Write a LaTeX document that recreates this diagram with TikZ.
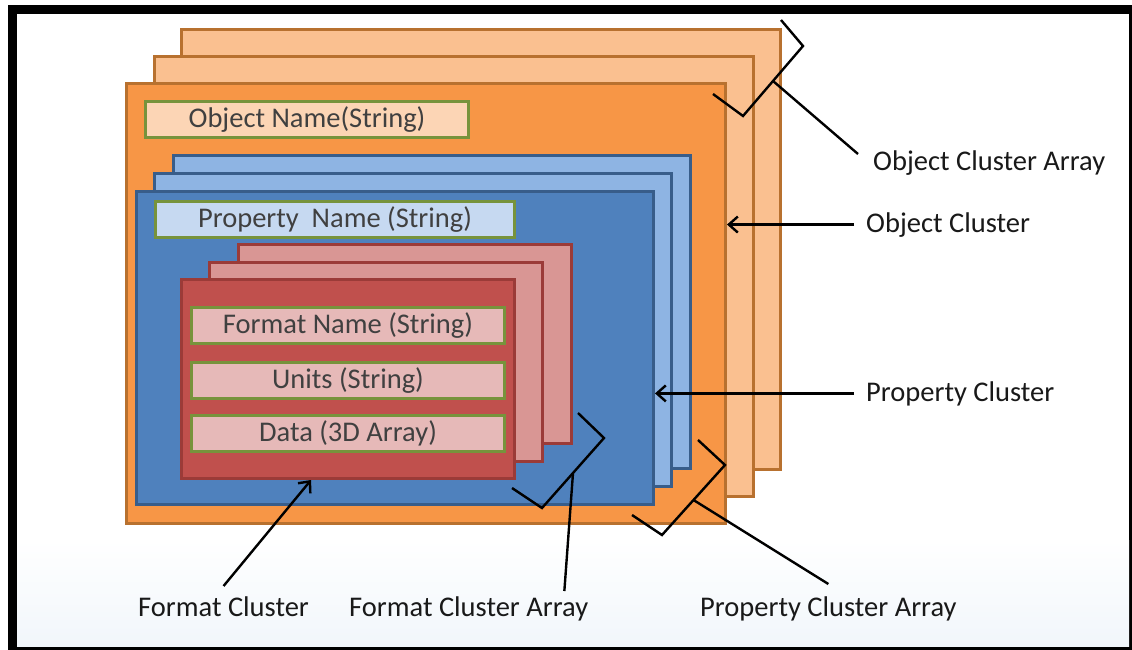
\documentclass[tikz,border=0pt]{standalone}
\usepackage{fontspec}
\setmainfont{Carlito}
\usepackage{tikz}
\usetikzlibrary{arrows.meta,calc}

\definecolor{orgfill}{HTML}{F79646}
\definecolor{orgpale}{HTML}{FAC090}
\definecolor{orgline}{HTML}{B8712F}
\definecolor{bluefill}{HTML}{4F81BD}
\definecolor{bluepale}{HTML}{8EB4E3}
\definecolor{blueline}{HTML}{385D8A}
\definecolor{redfill}{HTML}{C0504D}
\definecolor{redpale}{HTML}{D99694}
\definecolor{redline}{HTML}{9B3B38}
\definecolor{fieldline}{HTML}{77933C}
\definecolor{objfield}{HTML}{FCD5B5}
\definecolor{propfield}{HTML}{C6D9F1}
\definecolor{fmtfield}{HTML}{E6B9B8}
\definecolor{skyhaze}{HTML}{F1F6FB}

\begin{document}
\begin{tikzpicture}[x=1pt, y=-1pt,
    objcard/.style={draw=orgline, fill=orgpale, line width=3pt, inner sep=0pt,
        minimum width=599pt, minimum height=440pt, anchor=north west},
    propcard/.style={draw=blueline, fill=bluepale, line width=3pt, inner sep=0pt,
        minimum width=517pt, minimum height=313pt, anchor=north west},
    fmtcard/.style={draw=redline, fill=redpale, line width=3pt, inner sep=0pt,
        minimum width=333pt, minimum height=199pt, anchor=north west},
    field/.style={draw=fieldline, line width=3pt, inner sep=0pt, minimum height=36pt,
        anchor=north west, text=black!75, font=\fontsize{28.5}{32}\selectfont},
    tag/.style={inner sep=0pt, anchor=base west, text=black!90,
        font=\fontsize{28.5}{32}\selectfont},
    lead/.style={line width=2.4pt},
    pointer/.style={line width=2.4pt, -{Straight Barb[length=9pt, width=16pt]}}]

    \useasboundingbox (0,0) rectangle (1132,650);

    % frame and background
    \fill (8,5) rectangle (1132,650);
    \fill[white] (17,14) rectangle (1129,646);
    \shade[top color=white, bottom color=skyhaze] (17,540) rectangle (1129,646);

    % Object cluster array
    \node[objcard] (objback2) at (180,28) {};
    \node[objcard] (objback1) at (153,55) {};
    \node[objcard, fill=orgfill] (objfront) at (125,82) {};
    \node[field, fill=objfield, minimum width=323pt] (objname) at (144,100) {Object Name(String)};

    % Property cluster array
    \node[propcard] (propback2) at (172,154) {};
    \node[propcard] (propback1) at (153,172) {};
    \node[propcard, fill=bluefill] (propfront) at (135,190) {};
    \node[field, fill=propfield, minimum width=359pt] (propname) at (154,200) {Property~~Name (String)};

    % Format cluster array
    \node[fmtcard] (fmtback2) at (237,243) {};
    \node[fmtcard] (fmtback1) at (208,261) {};
    \node[fmtcard, fill=redfill] (fmtfront) at (180,278) {};
    \node[field, fill=fmtfield, minimum width=313pt] (fmtname) at (190,306) {Format Name (String)};
    \node[field, fill=fmtfield, minimum width=313pt] (units) at (190,361) {Units (String)};
    \node[field, fill=fmtfield, minimum width=313pt] (data) at (190,414) {Data (3D Array)};

    % braces
    \draw[lead] (713,94) -- (743,116) -- coordinate[midway] (ocamid) (803,46) -- (781,20);
    \draw[lead] (698,440) -- (725,465) -- coordinate[midway] (pcamid) (662,535) -- (632,515);
    \draw[lead] (578,413) -- (604,438) -- coordinate[midway] (fcamid) (542,508) -- (512,488);

    % labels
    \node[tag] (ocalabel) at (873,171) {Object Cluster Array};
    \node[tag] (oclabel) at (866,232) {Object Cluster};
    \node[tag] (pclabel) at (866,401) {Property Cluster};
    \node[tag] (fclabel) at (138,616) {Format Cluster};
    \node[tag] (fcalabel) at (349,616) {Format Cluster Array};
    \node[tag] (pcalabel) at (700,616) {Property Cluster Array};

    % leaders and arrows
    \draw[lead] (ocamid) -- ([shift={(-15,-17)}]ocalabel.base west);
    \draw[pointer] ([xshift=-12pt]oclabel.west) -- (oclabel.west -| objfront.east);
    \draw[pointer] ([xshift=-12pt]pclabel.west) -- (pclabel.west -| propfront.east);
    \draw[lead] (pcamid) -- ([yshift=12pt]pcalabel.north);
    \draw[lead] (fcamid) -- ([shift={(-24,-5)}]fcalabel.north east);
    \draw[pointer] ([yshift=10pt]fclabel.north) -- ($(fmtfront.south west)!0.39!(fmtfront.south east)$);
\end{tikzpicture}
\end{document}
